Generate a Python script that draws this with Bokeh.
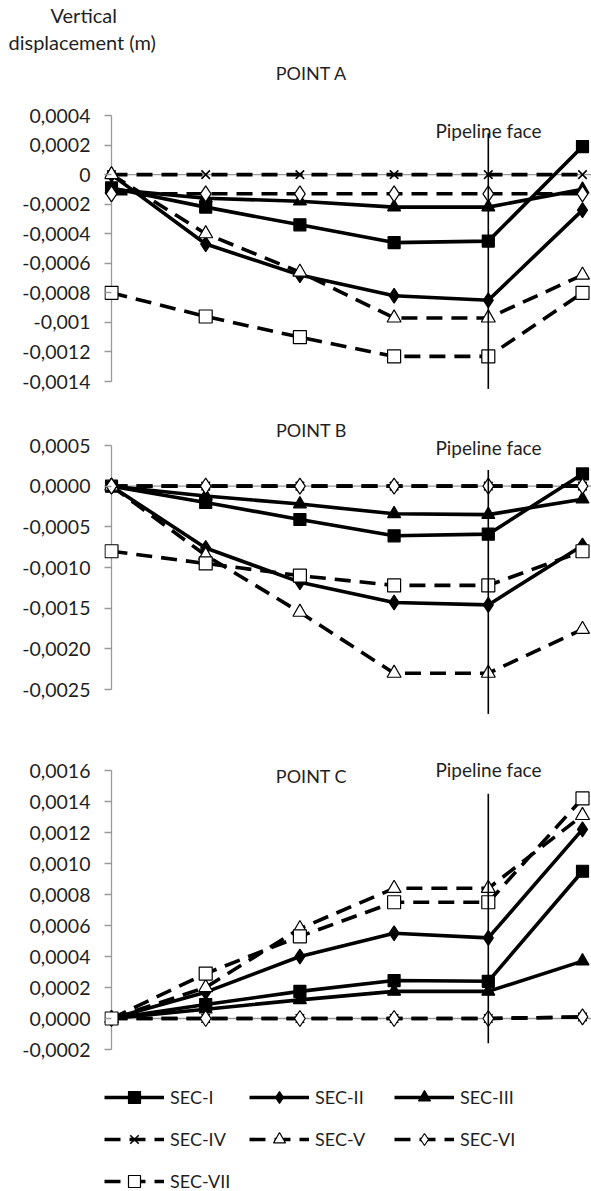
from bokeh.plotting import figure
from bokeh.models import (LinearAxis, FixedTicker, Span, Label, Legend, LegendItem, Range1d, Title)
from bokeh.layouts import column
from bokeh.embed import file_html
from bokeh.resources import INLINE

# ---------------- data ----------------
x_pos = [0, 1, 2, 3, 4, 5]
series = ["SEC-I", "SEC-II", "SEC-III", "SEC-IV", "SEC-V", "SEC-VI", "SEC-VII"]

# POINT A
a_sec_i = [-0.00009, -0.00022, -0.00034, -0.00046, -0.00045, 0.00019]
a_sec_ii = [0.0, -0.00047, -0.00068, -0.00082, -0.00085, -0.00024]
a_sec_iii = [-0.0001, -0.00016, -0.00018, -0.00022, -0.00022, -0.0001]
a_sec_iv = [0.0, 0.0, 0.0, 0.0, 0.0, 0.0]
a_sec_v = [0.0, -0.0004, -0.00066, -0.00097, -0.00097, -0.00068]
a_sec_vi = [-0.00013, -0.00013, -0.00013, -0.00013, -0.00013, -0.00013]
a_sec_vii = [-0.0008, -0.00096, -0.0011, -0.00123, -0.00123, -0.0008]

# POINT B
b_sec_i = [0.0, -0.0002, -0.00041, -0.00061, -0.00059, 0.00015]
b_sec_ii = [0.0, -0.00076, -0.00118, -0.00143, -0.00146, -0.00073]
b_sec_iii = [0.0, -0.00012, -0.00022, -0.00034, -0.00035, -0.00016]
b_sec_iv = [0.0, 0.0, 0.0, 0.0, 0.0, 0.0]
b_sec_v = [0.0, -0.00085, -0.00155, -0.0023, -0.0023, -0.00176]
b_sec_vi = [0.0, 0.0, 0.0, 0.0, 0.0, 0.0]
b_sec_vii = [-0.0008, -0.00095, -0.0011, -0.00122, -0.00122, -0.0008]

# POINT C
c_sec_i = [0.0, 0.00009, 0.000175, 0.000245, 0.00024, 0.00095]
c_sec_ii = [0.0, 0.00017, 0.0004, 0.00055, 0.00052, 0.00122]
c_sec_iii = [0.0, 0.00006, 0.00012, 0.000175, 0.000175, 0.00037]
c_sec_iv = [0.0, 0.0, 0.0, 0.0, 0.0, 0.00001]
c_sec_v = [0.0, 0.0002, 0.00058, 0.00084, 0.00084, 0.00131]
c_sec_vi = [0.0, 0.0, 0.0, 0.0, 0.0, 0.00001]
c_sec_vii = [0.0, 0.00029, 0.00053, 0.00075, 0.00075, 0.00142]

a_ticks = [0.0004, 0.0002, 0.0, -0.0002, -0.0004, -0.0006, -0.0008, -0.001, -0.0012, -0.0014]
a_tick_labels = ["0,0004", "0,0002", "0", "-0,0002", "-0,0004", "-0,0006", "-0,0008", "-0,001", "-0,0012", "-0,0014"]
b_ticks = [0.0005, 0.0, -0.0005, -0.001, -0.0015, -0.002, -0.0025]
b_tick_labels = ["0,0005", "0,0000", "-0,0005", "-0,0010", "-0,0015", "-0,0020", "-0,0025"]
c_ticks = [0.0016, 0.0014, 0.0012, 0.001, 0.0008, 0.0006, 0.0004, 0.0002, 0.0, -0.0002]
c_tick_labels = ["0,0016", "0,0014", "0,0012", "0,0010", "0,0008", "0,0006", "0,0004", "0,0002", "0,0000", "-0,0002"]

pipeline_x = 4

# ---------------- styling ----------------
FONT = "Lato"
TXT = "#1f1f1f"
GRAY = "#9a9a9a"
DASH = "16 9"
LW = 3.6
styles = {
    "SEC-I": dict(dash="solid", marker="square", fill="black", size=12),
    "SEC-II": dict(dash="solid", marker="diamond", fill="black", size=15),
    "SEC-III": dict(dash="solid", marker="triangle", fill="black", size=13),
    "SEC-IV": dict(dash=DASH, marker="x", fill=None, size=12),
    "SEC-V": dict(dash=DASH, marker="triangle", fill="white", size=14),
    "SEC-VI": dict(dash=DASH, marker="diamond", fill="white", size=16),
    "SEC-VII": dict(dash=DASH, marker="square", fill="white", size=13),
}

W = 591
LEFT = 104
X_PX0 = 111.0
X_STEP = 94.2
x_start = (LEFT - X_PX0) / X_STEP
x_end = (W - X_PX0) / X_STEP


def px_x(px):
    return (px - X_PX0) / X_STEP


def make_panel(top, height, ref_py, ref_val, px_per_unit, ticks, labels, bounds,
               values, title, title_py, face_py, pipe_ext, legend=False):
    def py_v(py):
        return ref_val - (py - ref_py) / px_per_unit
    y_end = py_v(top)
    y_start = py_v(top + height)
    p = figure(width=W, height=height, x_range=Range1d(x_start, x_end),
               y_range=Range1d(y_start, y_end), x_axis_location=None,
               y_axis_location=None, output_backend="svg", toolbar_location=None,
               min_border_left=LEFT, min_border_right=0, min_border_top=0,
               min_border_bottom=0, outline_line_color=None)
    p.grid.visible = False
    ax = LinearAxis(bounds=bounds, ticker=FixedTicker(ticks=ticks),
                    major_label_overrides={t: l for t, l in zip(ticks, labels)})
    ax.axis_line_color = None
    ax.major_tick_line_color = GRAY
    ax.major_tick_line_width = 1.3
    ax.major_tick_out = 0
    ax.major_tick_in = 7
    ax.minor_tick_line_color = None
    ax.major_label_standoff = 14
    ax.major_label_text_font = FONT
    ax.major_label_text_font_size = "19.5px"
    ax.major_label_text_color = TXT
    p.add_layout(ax, "left")
    # vertical axis line at the first category, horizontal zero line
    p.segment(x0=[0], y0=[bounds[0]], x1=[0], y1=[bounds[1]], line_color=GRAY, line_width=1.3)
    p.add_layout(Span(location=0, dimension="width", line_color=GRAY,
                      line_width=1.3, level="underlay"))
    items = []
    for name, vals in zip(series, values):
        st = styles[name]
        lr = p.line(x_pos, vals, line_color="black", line_width=LW, line_dash=st["dash"])
        if st["marker"] == "x":
            sr = p.scatter(x_pos, vals, marker="x", size=st["size"], line_color="black",
                           line_width=1.6)
        else:
            sr = p.scatter(x_pos, vals, marker=st["marker"], size=st["size"],
                           line_color="black", line_width=1.2, fill_color=st["fill"])
        items.append(LegendItem(label=name, renderers=[lr, sr]))
    p.segment(x0=[pipeline_x], y0=[pipe_ext[0]], x1=[pipeline_x], y1=[pipe_ext[1]],
              line_color="black", line_width=1.6)
    p.add_layout(Label(x=px_x(311), y=py_v(title_py), text=title, text_align="center",
                       text_baseline="middle", text_font=FONT, text_font_size="18px",
                       text_color=TXT))
    p.add_layout(Label(x=px_x(488), y=py_v(face_py), text="Pipeline face", text_align="center",
                       text_baseline="middle", text_font=FONT, text_font_size="19px",
                       text_color=TXT))
    if legend:
        lg = Legend(items=items, location=(0, -5), orientation="horizontal", ncols=3,
                    glyph_width=60, glyph_height=30, label_height=30, label_width=67,
                    label_standoff=6, spacing=12, padding=0, margin=0,
                    border_line_color=None, background_fill_alpha=0, label_text_font=FONT,
                    label_text_font_size="18px", label_text_color=TXT)
        p.add_layout(lg, "center")
    return p, py_v


# header with the axis title (titles sit in the panel above a tiny empty frame)
HEAD = 60
ph = figure(width=W, height=HEAD, x_range=Range1d(0, 1), y_range=Range1d(0, 1),
            x_axis_location=None, y_axis_location=None, output_backend="svg",
            toolbar_location=None, min_border=0, outline_line_color=None)
ph.grid.visible = False
ph.add_layout(Title(text="displacement (m)", align="left", offset=8 - LEFT, text_font=FONT,
                    text_font_size="20px", text_font_style="normal", text_color=TXT,
                    standoff=2), "above")
ph.add_layout(Title(text="Vertical", align="left", offset=50 - LEFT, text_font=FONT,
                    text_font_size="20px", text_font_style="normal", text_color=TXT,
                    standoff=0), "above")

pA, vA = make_panel(HEAD, 402 - HEAD, 115, 0.0004, 266 / 0.0018, a_ticks, a_tick_labels,
                    (-0.0014, 0.0004),
                    [a_sec_i, a_sec_ii, a_sec_iii, a_sec_iv, a_sec_v, a_sec_vi, a_sec_vii],
                    "POINT A", 72, 130, (0.00028, -0.00145))

pB, vB = make_panel(402, 323, 445, 0.0005, 244 / 0.003, b_ticks, b_tick_labels, (-0.0025, 0.0005),
                    [b_sec_i, b_sec_ii, b_sec_iii, b_sec_iv, b_sec_v, b_sec_vi, b_sec_vii],
                    "POINT B", 429, 447, (0.0002, -0.0028))

pC, vC = make_panel(725, 466, 770, 0.0016, 279 / 0.0018, c_ticks, c_tick_labels, (-0.0002, 0.0016),
                    [c_sec_i, c_sec_ii, c_sec_iii, c_sec_iv, c_sec_v, c_sec_vi, c_sec_vii],
                    "POINT C", 775, 769, (0.00145, -0.00016), legend=True)

layout = column(ph, pA, pB, pC, spacing=0)
open("out.html", "w").write(file_html(layout, INLINE))
